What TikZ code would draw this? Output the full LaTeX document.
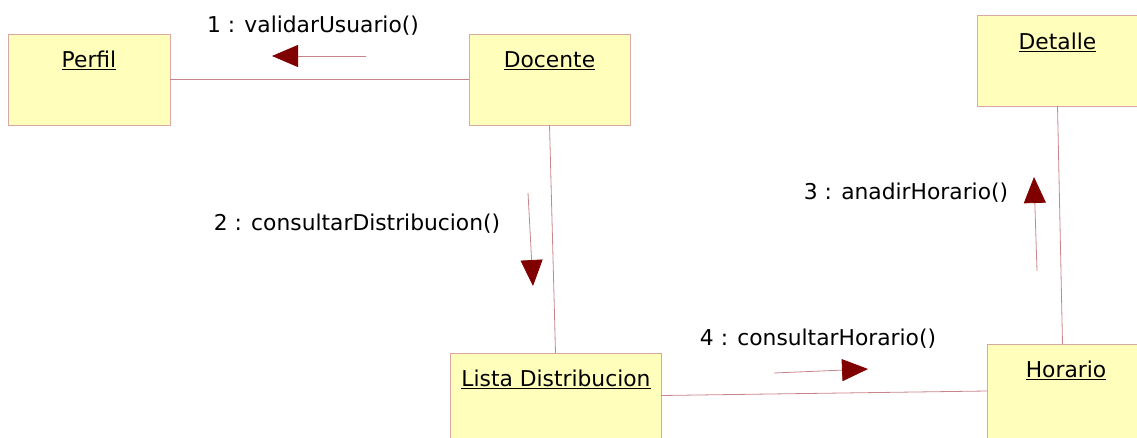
\documentclass[tikz,border=0pt]{standalone}
\usepackage{fontspec}
\setmainfont{DejaVu Sans}
\usetikzlibrary{arrows.meta}
\definecolor{boxfill}{HTML}{FFFFBB}
\definecolor{boxline}{HTML}{D9A8A0}
\definecolor{linkline}{HTML}{C8868C}
\definecolor{tipred}{HTML}{800000}
\tikzset{
  umlbox/.style={draw=boxline, fill=boxfill, line width=0.9pt, rectangle, inner sep=0pt, outer sep=0pt},
  objname/.style={anchor=base, inner sep=0pt, font=\fontsize{21.8}{26}\selectfont},
  msglabel/.style={anchor=base, inner sep=0pt, font=\fontsize{21.8}{26}\selectfont},
  link/.style={draw=linkline, line width=0.8pt},
  msg/.style={draw=linkline, line width=0.8pt, -{Triangle[length=26pt,width=22pt,color=tipred,fill=tipred]}}
}
\begin{document}
\begin{tikzpicture}[x=1pt,y=-1pt]
  \useasboundingbox (0,0) rectangle (1137,437);

  % objects
  \node[umlbox, minimum width=162pt, minimum height=91pt] (perfil) at (89,79.5) {};
  \node[umlbox, minimum width=161pt, minimum height=91pt] (docente) at (549.5,79.5) {};
  \node[umlbox, minimum width=161pt, minimum height=91pt] (detalle) at (1057.5,60.5) {};
  \node[umlbox, minimum width=151pt, minimum height=94pt] (horario) at (1062.5,391) {};
  \node[umlbox, minimum width=211pt, minimum height=85pt] (lista) at (555.5,395.5) {};

  \node[objname] (perfilT) at (89,67) {\underline{Perfil}};
  \node[objname] (docenteT) at (549.5,67) {\underline{Docente}};
  \node[objname] (detalleT) at (1057.5,49) {\underline{Detalle}};
  \node[objname] (horarioT) at (1066,377) {\underline{Horario}};
  \node[objname] (listaT) at (556,386) {\underline{Lista Distribucion}};

  % links
  \draw[link] (perfil.east) -- (docente.west);
  \draw[link] (docente.south) -- (lista.north);
  \draw[link] (lista.east) -- (horario.west);
  \draw[link] (detalle.south) -- (horario.north);

  % messages
  \coordinate (m1s) at (366,56);
  \coordinate (m1e) at (272,56);
  \draw[msg] (m1s) -- (m1e);
  \node[msglabel] (m1) at (313,32) {1 : validarUsuario()};

  \coordinate (m2s) at (528,193);
  \coordinate (m2e) at (533,286);
  \draw[msg] (m2s) -- (m2e);
  \node[msglabel] (m2) at (357,230) {2 : consultarDistribucion()};

  \coordinate (m3s) at (1037,271);
  \coordinate (m3e) at (1034,177);
  \draw[msg] (m3s) -- (m3e);
  \node[msglabel] (m3) at (906,199) {3 : anadirHorario()};

  \coordinate (m4s) at (774,373);
  \coordinate (m4e) at (868,369);
  \draw[msg] (m4s) -- (m4e);
  \node[msglabel] (m4) at (818,345) {4 : consultarHorario()};
\end{tikzpicture}
\end{document}
